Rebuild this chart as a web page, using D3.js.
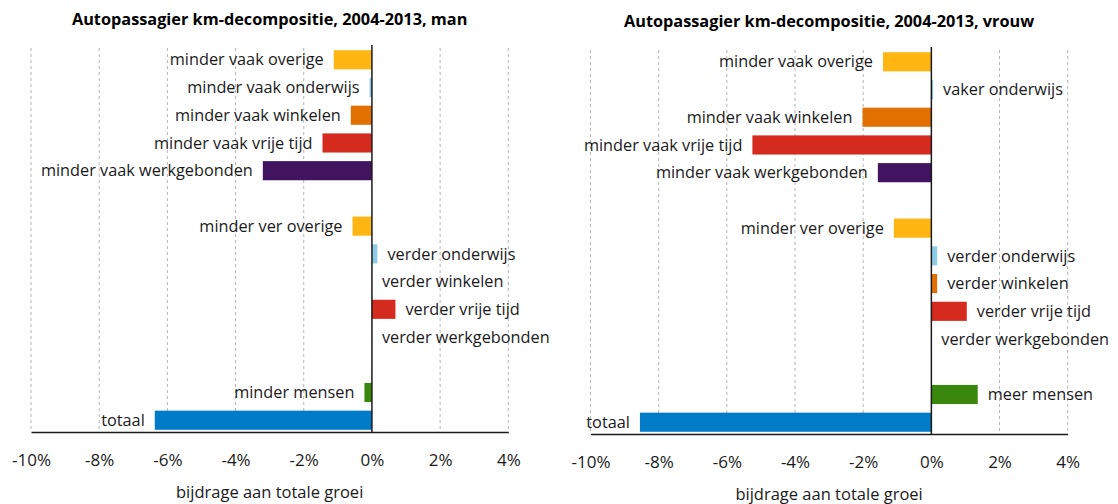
<!DOCTYPE html>
<html>
<head>
<meta charset="utf-8">
<script src="https://cdn.jsdelivr.net/npm/d3@7"></script>
<style>
  html, body { margin: 0; padding: 0; background: #fff; }
  svg { display: block; }
  text { font-family: "Open Sans", "Noto Sans", sans-serif; fill: #1a1a1a; }
</style>
</head>
<body>
<svg id="chart" width="1118" height="504"></svg>
<script>
// ---- data ----
const rowKeys = ["vaakOverige","vaakOnderwijs","vaakWinkelen","vaakVrijeTijd","vaakWerk","gap1",
                 "verOverige","verOnderwijs","verWinkelen","verVrijeTijd","verWerk","gap2",
                 "mensen","totaal"];
const colorKeys = ["overige","onderwijs","winkelen","vrijetijd","werk","none",
                   "overige","onderwijs","winkelen","vrijetijd","werk","none",
                   "mensen","totaal"];
const labelsMan = ["minder vaak overige","minder vaak onderwijs","minder vaak winkelen","minder vaak vrije tijd","minder vaak werkgebonden","",
                   "minder ver overige","verder onderwijs","verder winkelen","verder vrije tijd","verder werkgebonden","",
                   "minder mensen","totaal"];
const valuesMan = [-1.12, -0.07, -0.62, -1.45, -3.20, null,
                   -0.57, 0.16, 0, 0.69, 0, null,
                   -0.22, -6.37];
const labelsVrouw = ["minder vaak overige","vaker onderwijs","minder vaak winkelen","minder vaak vrije tijd","minder vaak werkgebonden","",
                     "minder ver overige","verder onderwijs","verder winkelen","verder vrije tijd","verder werkgebonden","",
                     "meer mensen","totaal"];
const valuesVrouw = [-1.42, 0.05, -2.02, -5.25, -1.57, null,
                     -1.10, 0.17, 0.17, 1.04, 0, null,
                     1.36, -8.55];
const xTicks = [-10, -8, -6, -4, -2, 0, 2, 4];
const titles = ["Autopassagier km-decompositie, 2004-2013, man",
                "Autopassagier km-decompositie, 2004-2013, vrouw"];
const axisTitle = "bijdrage aan totale groei";
const palette = {
  overige: "#FFB612", onderwijs: "#8FCAE7", winkelen: "#E17000", vrijetijd: "#D52B1E",
  werk: "#42145F", mensen: "#39870C", totaal: "#007BC7", none: "none"
};

const svg = d3.select("#chart");

function drawPanel(cfg) {
  const g = svg.append("g").attr("transform", `translate(0,${cfg.dy})`);
  const x = d3.scaleLinear().domain([-10, 4]).range([cfg.x0, cfg.x1]);
  const y = d3.scaleBand().domain(rowKeys).range([48, 432]).paddingInner(0.31).paddingOuter(0.08);
  const rows = rowKeys.map((k, i) => ({ key: k, label: cfg.labels[i], value: cfg.values[i], color: palette[colorKeys[i]] }));

  // title
  g.append("text")
    .attr("x", (cfg.x0 + cfg.x1) / 2).attr("y", 25)
    .attr("text-anchor", "middle")
    .style("font-weight", "700").style("font-size", "16.3px").style("fill", "#000")
    .text(cfg.title);

  // grid lines
  g.append("g").selectAll("line")
    .data(xTicks.filter(t => t !== 0))
    .join("line")
    .attr("x1", d => x(d)).attr("x2", d => x(d))
    .attr("y1", 48).attr("y2", 432)
    .attr("stroke", "#b5b5b5").attr("stroke-width", 1)
    .attr("stroke-dasharray", "3,3");

  // bars
  const data = rows.filter(r => r.value !== null);
  g.append("g").selectAll("rect")
    .data(data.filter(r => r.value !== 0))
    .join("rect")
    .attr("x", d => Math.min(x(d.value), x(0)))
    .attr("width", d => Math.abs(x(d.value) - x(0)))
    .attr("y", d => y(d.key))
    .attr("height", y.bandwidth())
    .attr("fill", d => d.color);

  // labels
  g.append("g").selectAll("text")
    .data(data)
    .join("text")
    .attr("x", d => d.value < 0 ? x(d.value) - 10 : x(d.value) + 10)
    .attr("y", d => y(d.key) + y.bandwidth() / 2)
    .attr("dy", "0.35em")
    .attr("text-anchor", d => d.value < 0 ? "end" : "start")
    .style("font-size", "16.3px")
    .text(d => d.label);

  // zero line
  g.append("line")
    .attr("x1", x(0)).attr("x2", x(0))
    .attr("y1", 45).attr("y2", 432)
    .attr("stroke", "#1a1a1a").attr("stroke-width", 1.5);

  // x axis
  const axis = d3.axisBottom(x).tickValues(xTicks).tickSize(0).tickPadding(22)
    .tickFormat(d => d + "%");
  const ax = g.append("g").attr("transform", "translate(0,432)").call(axis);
  ax.select(".domain").attr("stroke", "#1a1a1a").attr("stroke-width", 1.5);
  ax.selectAll("text").style("font-size", "17px").style("font-family", '"Open Sans", sans-serif').attr("fill", "#1a1a1a");

  // axis title
  g.append("text")
    .attr("x", (cfg.x0 + cfg.x1) / 2).attr("y", 498)
    .attr("text-anchor", "middle")
    .style("font-size", "16.5px")
    .text(axisTitle);
}

drawPanel({ x0: 31, x1: 508.3, dy: 0, title: titles[0], labels: labelsMan, values: valuesMan });
drawPanel({ x0: 590.5, x1: 1067.7, dy: 2, title: titles[1], labels: labelsVrouw, values: valuesVrouw });
</script>
</body>
</html>
